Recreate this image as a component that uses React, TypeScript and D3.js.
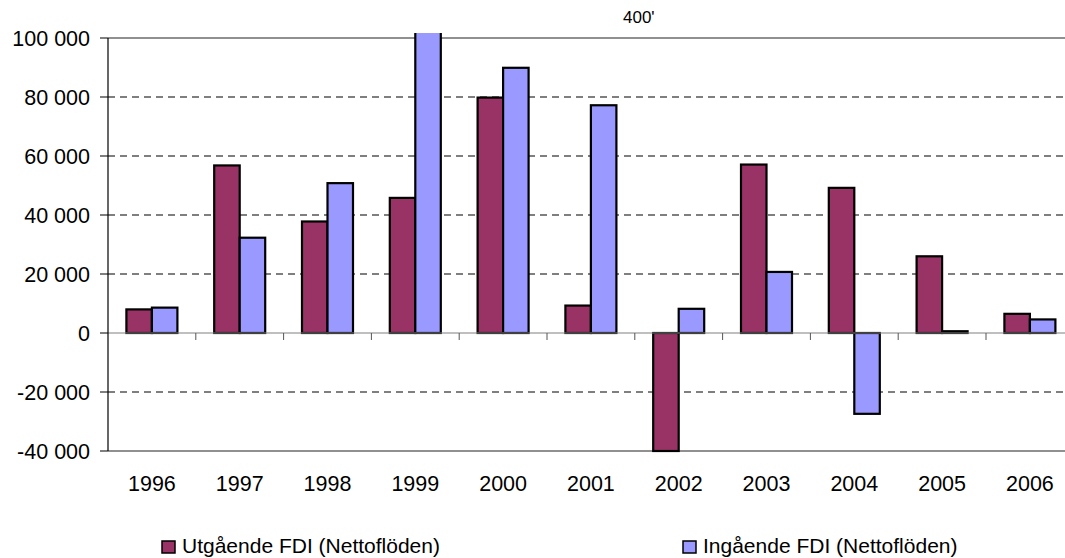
import React from 'react';
import * as d3 from 'd3';

const years = ['1996', '1997', '1998', '1999', '2000', '2001', '2002', '2003', '2004', '2005', '2006'];
const outgoing = [8000, 56800, 37800, 45800, 79800, 9300, -40000, 57100, 49200, 26000, 6500];
const incoming = [8600, 32300, 50800, 400000, 89900, 77200, 8200, 20700, -27400, 600, 4600];
const yTicks = [-40000, -20000, 0, 20000, 40000, 60000, 80000, 100000];
const seriesNames = ['Utgående FDI (Nettoflöden)', 'Ingående FDI (Nettoflöden)'];
const colors = ['#993366', '#9999FF'];

const width = 1065;
const height = 558;
const font = '"Liberation Sans", Arial, sans-serif';

const fmt = (v: number) => {
  const s = Math.abs(v).toString().replace(/\B(?=(\d{3})+(?!\d))/g, ' ');
  return (v < 0 ? '-' : '') + s;
};

const App: React.FC = () => {
  const left = 108;
  const band = 87.8;
  const x = d3.scaleBand<string>().domain(years).range([left, left + band * years.length]);
  const y = d3.scaleLinear().domain([-40000, 100000]).range([451, 38]);
  const barW = 25.5;
  const groupOff = (x.bandwidth() - barW * 2) / 2;
  const clipTop = 33;

  const barRect = (v: number, i: number, k: number) => {
    const x0 = (x(years[i]) as number) + groupOff + k * barW;
    const y0 = Math.min(y(v), y(0));
    const h = Math.abs(y(v) - y(0));
    return (
      <rect key={`${k}-${i}`} x={x0} y={y0} width={barW} height={h}
        fill={colors[k]} stroke="#000" strokeWidth={2.2} />
    );
  };

  return (
    <svg width={width} height={height} style={{ position: 'absolute', left: 0, top: 0, background: '#fff' }}
      fontFamily={font}>
      <defs>
        <clipPath id="plotClip">
          <rect x={0} y={clipTop} width={width} height={y(-40000) - clipTop + 2} />
        </clipPath>
      </defs>
      {/* gridlines */}
      {yTicks.map((t) => {
        if (t === 0) return null;
        const solid = t === 100000 || t === -40000;
        return (
          <line key={t} x1={left} x2={width} y1={y(t)} y2={y(t)}
            stroke={solid ? '#222' : '#000'} strokeWidth={1.1}
            strokeDasharray={solid ? undefined : '7,5'} />
        );
      })}
      {/* y ticks and labels */}
      {yTicks.map((t) => (
        <g key={`yt${t}`}>
          <line x1={left - 8} x2={left} y1={y(t)} y2={y(t)} stroke="#000" />
          <text x={90} y={y(t)} dy="0.36em" textAnchor="end" fontSize={21.5} fill="#000">{fmt(t)}</text>
        </g>
      ))}
      {/* bars */}
      <g clipPath="url(#plotClip)">
        {outgoing.map((v, i) => barRect(v, i, 0))}
        {incoming.map((v, i) => barRect(v, i, 1))}
      </g>
      {/* zero line with category ticks */}
      <line x1={left} x2={width} y1={y(0)} y2={y(0)} stroke="#808080" strokeWidth={1.2} />
      {years.slice(1).map((yr) => (
        <line key={`xt${yr}`} x1={x(yr) as number} x2={x(yr) as number} y1={y(0)} y2={y(0) + 7}
          stroke="#555" />
      ))}
      <line x1={left} x2={left} y1={y(100000)} y2={y(-40000)} stroke="#000" strokeWidth={1.2} />
      {/* x labels */}
      {years.map((yr) => (
        <text key={`xl${yr}`} x={(x(yr) as number) + x.bandwidth() / 2} y={491}
          textAnchor="middle" fontSize={21.5} fill="#000">{yr}</text>
      ))}
      <text x={623} y={23} fontSize={17} fill="#000">400'</text>
      {/* legend */}
      {seriesNames.map((name, k) => {
        const lx = k === 0 ? 162 : 683;
        return (
          <g key={name}>
            <rect x={lx} y={541} width={13} height={12} fill={colors[k]} stroke="#000" strokeWidth={1.5} />
            <text x={lx + 20} y={553} fontSize={21} fill="#000">{name}</text>
          </g>
        );
      })}
    </svg>
  );
};

export default App;
